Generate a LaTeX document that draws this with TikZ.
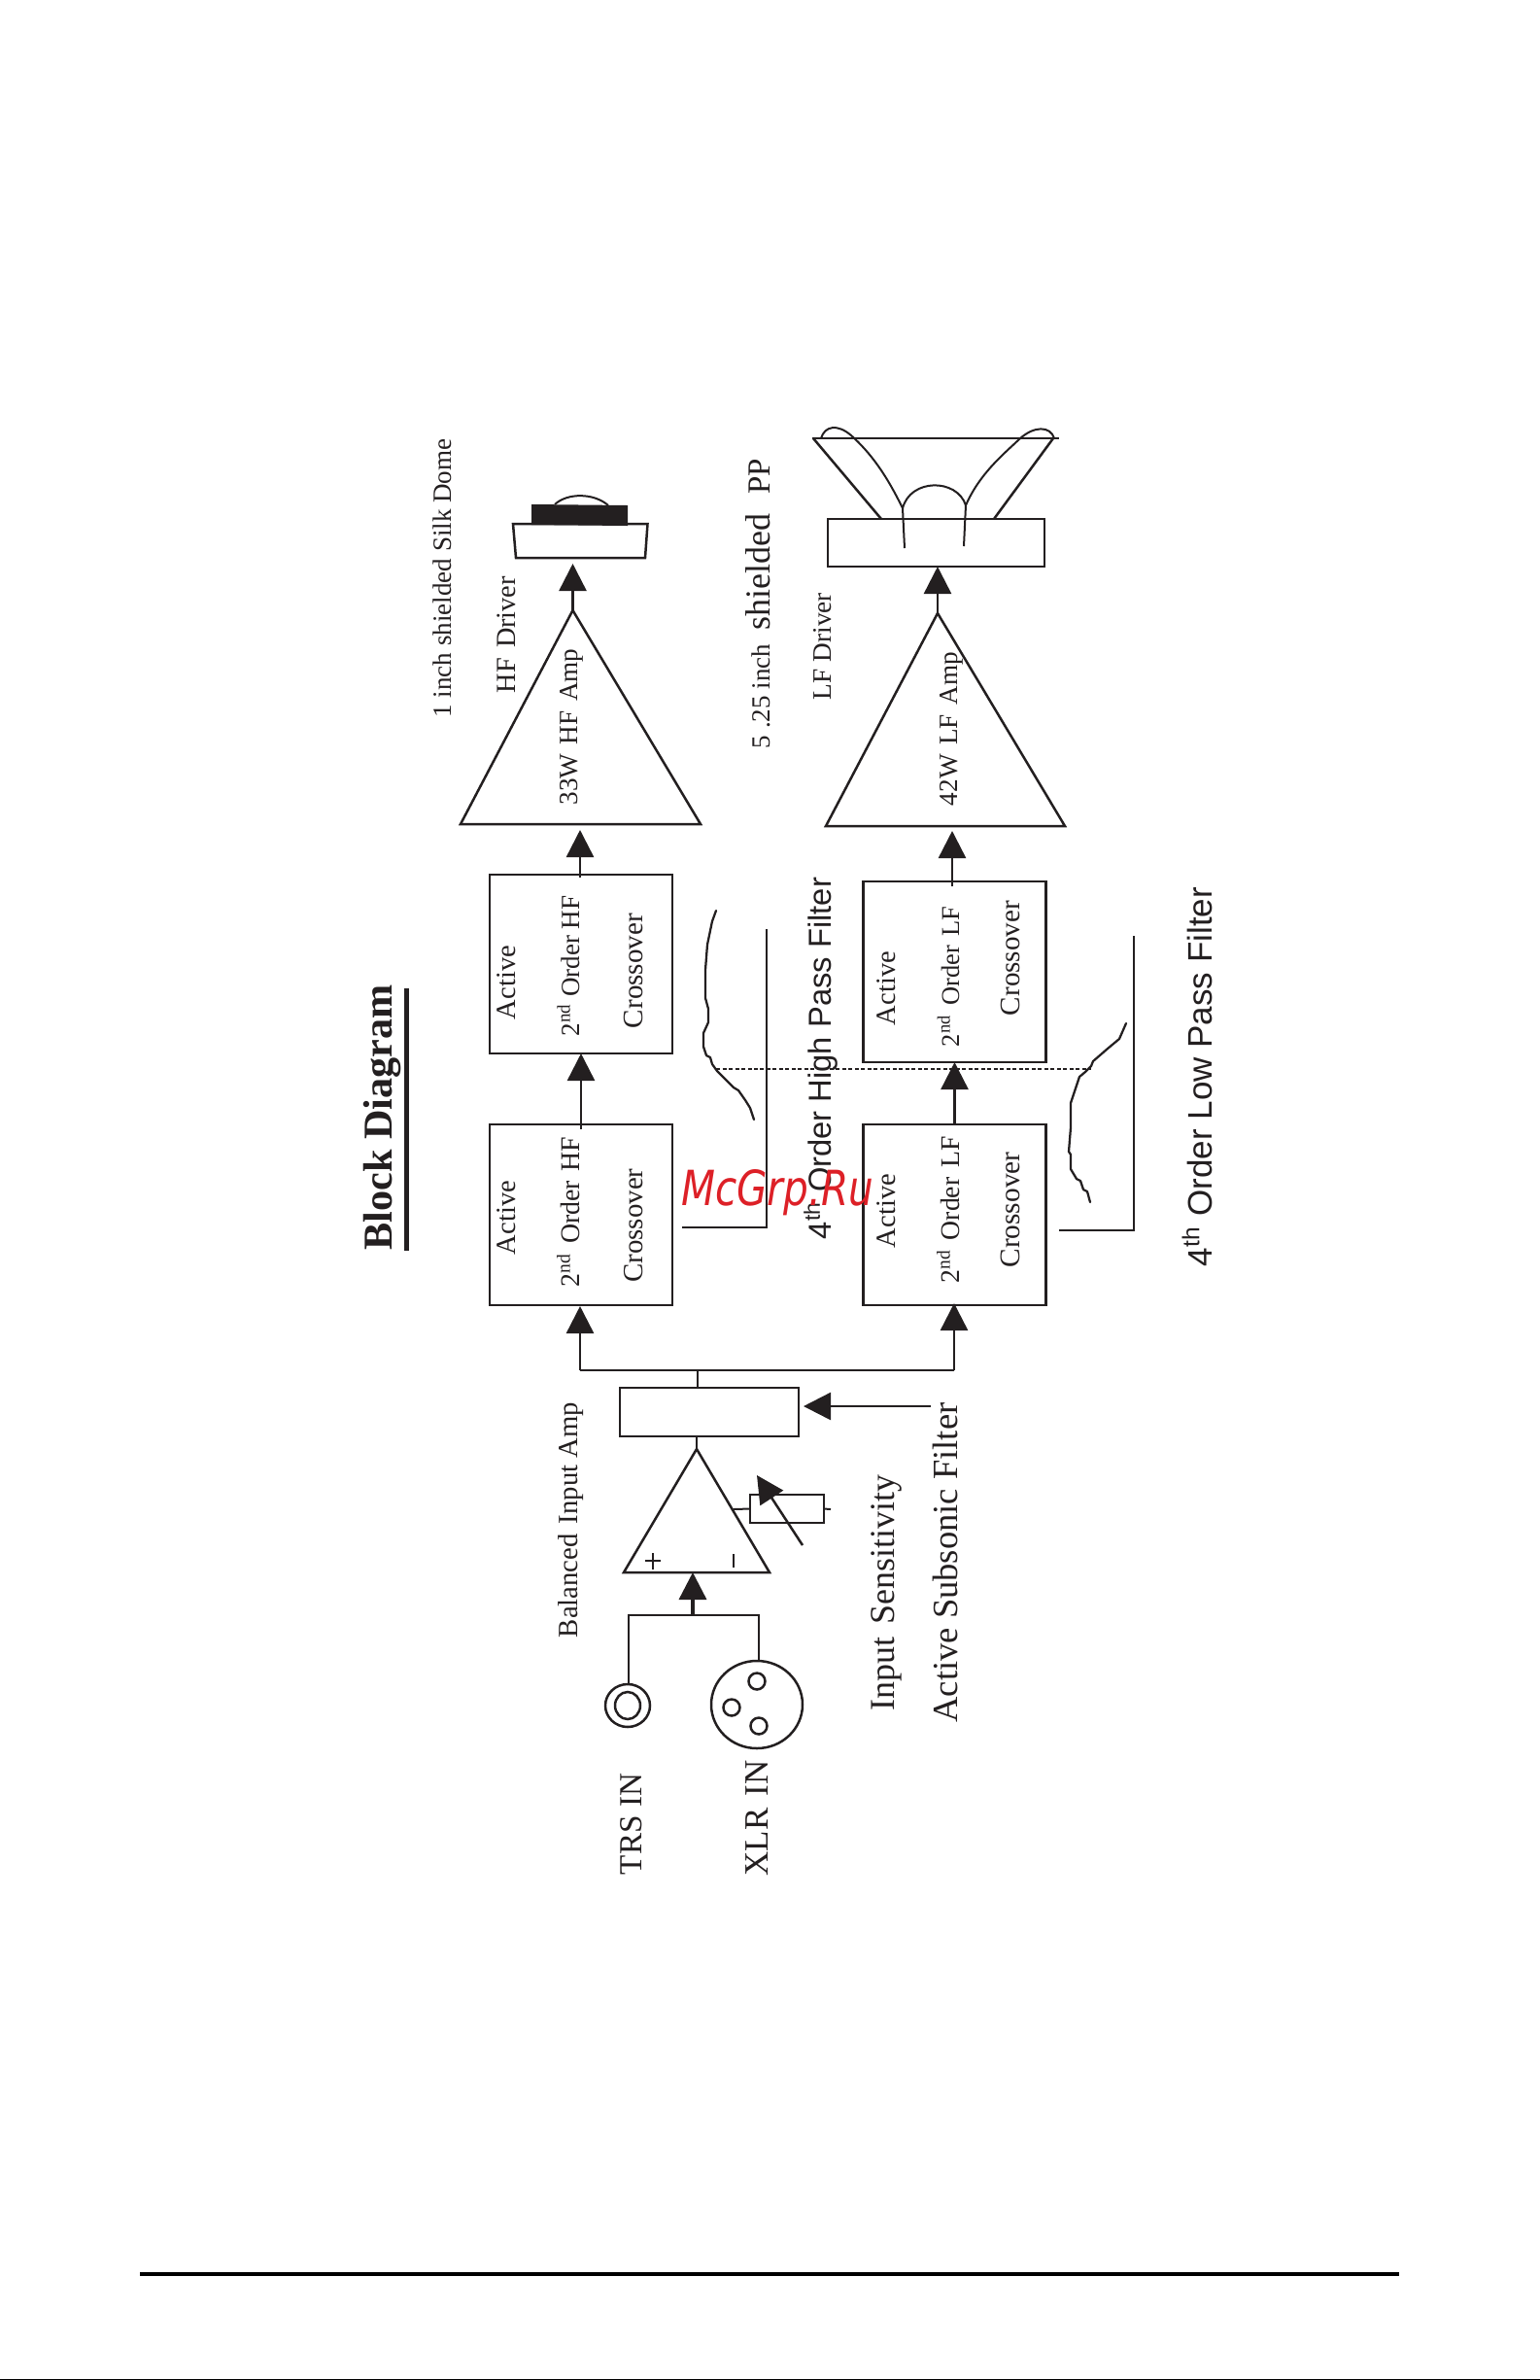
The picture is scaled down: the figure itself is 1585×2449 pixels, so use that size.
\documentclass[tikz,border=0pt]{standalone}
\usepackage{fontspec}
\usepackage{graphicx}
\setmainfont{Liberation Serif}
\setsansfont{Liberation Sans}
\newfontfamily\wmfont{DejaVu Sans}
\usetikzlibrary{arrows.meta,shapes.geometric}
\definecolor{ink}{HTML}{231F20}
\definecolor{wmred}{HTML}{DD2027}
\newcommand{\pxl}[1]{\dimexpr 0.02cm*#1\relax}
\newcommand{\lab}[5]{\node[rotate=90,inner sep=0pt,text=ink] (#1) at (#2,#3) {\resizebox{\pxl{#4}}{!}{#5}};}
\newcommand{\gp}{\hspace{0.35em}}
\tikzset{
  ln/.style={draw=ink,line width=0.05cm,line join=miter},
  thinln/.style={draw=ink,line width=0.04cm},
  pbox/.style n args={2}{draw=ink,line width=0.055cm,inner sep=0pt,outer sep=0pt,minimum width=#1*0.02cm,minimum height=#2*0.02cm},
  sig/.style={draw=ink,line width=0.05cm,-{Triangle[length=0.56cm,width=0.56cm,fill=ink]}},
  curve/.style={draw=ink,line width=0.04cm,line join=round},
  ring/.style n args={2}{draw=ink,line width=0.05cm,ellipse,inner sep=0pt,outer sep=0pt,minimum width=#1*0.02cm,minimum height=#2*0.02cm},
  filt/.style={draw=ink,line width=0.045cm,line join=round,line cap=round}
}
\begin{document}
\begin{tikzpicture}[x=0.02cm,y=-0.02cm]
\useasboundingbox (0,0) rectangle (1585,2449);
\fill[white] (0,0) rectangle (1585,2449);

% boxes
\node[pbox={188}{184}] (hf2) at (598,992) {};
\node[pbox={188}{186}] (hf1) at (598,1250) {};
\node[pbox={188}{186}] (lf2) at (982.5,1000) {};
\node[pbox={188}{186}] (lf1) at (982.5,1250) {};
\node[pbox={184}{50}] (sub) at (730,1453) {};
\node[pbox={223}{49}] (lfmag) at (963.5,558.5) {};
\node[pbox={76}{29},line width=0.04cm] (pot) at (810,1552.5) {};

% amplifiers
\coordinate (hfat) at (589.5,628); \coordinate (hfal) at (474,848); \coordinate (hfar) at (721,848);
\coordinate (lfat) at (965,631); \coordinate (lfal) at (850,850); \coordinate (lfar) at (1096,850);
\coordinate (int) at (717,1491); \coordinate (inl) at (642,1618); \coordinate (inr) at (792,1618);
\draw[ln] (hfat) -- (hfal) -- (hfar) -- cycle;
\draw[ln] (lfat) -- (lfal) -- (lfar) -- cycle;
\draw[ln] (int) -- (inl) -- (inr) -- cycle;
\coordinate (hfain) at (597,854); \coordinate (lfain) at (980,855);
\coordinate (hf2out) at (597,903); \coordinate (lf2out) at (980,912);

% main signal path
\draw[sig] (hf2out) -- (hfain);
\draw[sig] (lf2out) -- (lfain);
\draw[sig] ([yshift=-0.1cm]hf1.north) -- (hf2.south);
\draw[sig] (lf1.north) -- (lf2.south);
\coordinate (split) at (718,1410);
\coordinate (splitl) at (597,1410);
\coordinate (splitr) at (982,1410);
\draw[ln] (sub.north -| split) -- (split);
\draw[ln] (splitl) -- (splitr);
\draw[sig] (splitl) -- (597,1344);
\draw[sig] (splitr) -- (982,1341);
\draw[ln] (sub.south -| int) -- (int);
\coordinate (subin) at (958,1447);
\draw[sig] (subin) -- (827,1447);

% HF driver
\draw[ln] (528,539) -- (666.5,539) -- (664,574) -- (531,574) -- cycle;
\fill[ink] (547,519) -- (646,520) -- (646,541) -- (547,540) -- cycle;
\draw[curve] (571,519) .. controls (584,507) and (611,507) .. (626,520);
\draw[sig] (hfat) -- (589.5,580);

% LF driver
\draw[sig] (lfat) -- (lfmag.south -| lfat);
\draw[ln] (836,451) -- (1090,451);
\draw[ln] (837,451) -- (907,534);
\draw[ln] (1084,451) -- (1023,534);
\draw[curve] (845,451) .. controls (849,438) and (862,436) .. (876,448) .. controls (896,466) and (912,488) .. (929,523) -- (931,564);
\draw[curve] (1085,451) .. controls (1081,438) and (1064,438) .. (1049,452) .. controls (1031,469) and (1008,488) .. (994,520) -- (992,562);
\draw[curve] (929,523) .. controls (937,492) and (985,492) .. (994,520);

% input stage
\node[ring={46}{44}] (trs) at (646,1755) {};
\node[ring={26}{28}] (trsi) at (646,1755) {};
\node[ring={94}{90}] (xlr) at (779,1754) {};
\node[ring={17}{17}] (pina) at (779,1730) {};
\node[ring={17}{17}] (pinb) at (753,1757) {};
\node[ring={17}{17}] (pinc) at (781,1776) {};
\coordinate (mix) at (713,1662);
\coordinate (mixl) at (647,1662);
\coordinate (mixr) at (781,1662);
\draw[ln] (trs.north -| mixl) -- (mixl) -- (mixr) -- (xlr.north -| mixr);
\draw[sig,line width=0.07cm] (mix) -- (713,1618);

% input sensitivity pot
\draw[thinln] (755,1553) -- (pot.west);
\draw[thinln] (pot.east) -- (855,1553);
\coordinate (wipera) at (826,1590);
\coordinate (wiperb) at (779,1518);
\draw[sig] (wipera) -- (wiperb);

% plus and minus
\draw[thinln] (672,1598) -- (672,1615);
\draw[thinln] (664,1606) -- (680,1606);
\draw[thinln] (755,1599) -- (755,1613);

% filter plots
\draw[ln] (702,1263) -- (789,1263) -- (789,956);
\draw[ln] (1090,1266) -- (1167,1266) -- (1167,963);
\draw[filt] plot coordinates {(737,937) (733,948) (728,972) (726,998) (726,1027) (729,1038) (729,1052) (724,1063) (724,1077) (727,1086) (731,1088) (733,1095) (738,1102) (743,1107) (748,1112) (755,1119) (760,1122) (767,1132) (772,1140) (776,1152)};
\draw[filt] plot coordinates {(1159,1053) (1152,1069) (1140,1079) (1125,1092) (1123,1097) (1117,1103) (1111,1108) (1103,1132) (1102,1135) (1102,1160) (1100,1185) (1102,1188) (1102,1203) (1108,1213) (1112,1215) (1115,1224) (1119,1226) (1122,1237)};
\draw[draw=ink,line width=0.045cm,dash pattern=on 0.08cm off 0.05cm] (737,1100) -- (1123,1100);

% title
\node[rotate=90,inner sep=0pt,text=ink] (title) at (394,1150) {\resizebox{\pxl{273}}{!}{\bfseries Block Diagram}};
\draw[draw=ink,line width=0.1cm] (418,1287) -- (418,1017);

% labels
\lab{l1}{455}{595}{287}{1 inch shielded Silk Dome}
\lab{l2}{521}{653}{120}{HF\gp Driver}
\lab{l3}{588}{748}{161}{33W\gp HF\gp Amp}
\lab{l4}{780}{621}{298}{{\fontsize{27}{30}\selectfont 5 .25 inch}\hspace{14pt}{\fontsize{36}{40}\selectfont shielded}\hspace{20pt}{\fontsize{33}{40}\selectfont PP}}
\lab{l5}{847}{665}{110}{LF Driver}
\lab{l6}{979}{750}{158}{42W\gp LF\gp Amp}
\lab{a1}{521}{1011}{76}{Active}
\lab{o1}{585}{994}{145}{2\textsuperscript{nd} Order HF}
\lab{c1}{652}{999}{118}{Crossover}
\lab{a2}{521}{1253}{76}{Active}
\lab{o2}{585}{1247}{155}{2\textsuperscript{nd}\gp Order\gp HF}
\lab{c2}{652}{1261}{117}{Crossover}
\lab{a3}{912}{1017}{76}{Active}
\lab{o3}{976}{1005}{144}{2\textsuperscript{nd}\gp Order\gp LF}
\lab{c3}{1040}{986}{118}{Crossover}
\lab{a4}{912}{1246}{76}{Active}
\lab{o4}{976}{1245}{151}{2\textsuperscript{nd}\gp Order\gp LF}
\lab{c4}{1040}{1245}{119}{Crossover}
\lab{b1}{588}{1564}{242}{Balanced\gp Input Amp}
\lab{t1}{650}{1877}{104}{TRS IN}
\lab{t2}{779}{1871}{119}{XLR\gp IN}
\lab{s1}{912}{1639}{242}{Input\gp Sensitivity}
\lab{s2}{973}{1608}{329}{Active Subsonic Filter}
\lab{h1}{845}{1089}{372}{\sffamily 4\textsuperscript{th} Order High Pass Filter}
\lab{h2}{1232}{1108}{390}{\sffamily 4\textsuperscript{th} Order Low Pass Filter}

% page rule
\fill[black] (144,2338) rectangle (1440,2342);
\fill[black] (0,2448) rectangle (1585,2449);

% watermark
\node[inner sep=0pt,text=wmred] (wm) at (800,1227) {\resizebox{\pxl{198}}{\pxl{37}}{\wmfont\itshape McGrp.Ru}};
\end{tikzpicture}
\end{document}
